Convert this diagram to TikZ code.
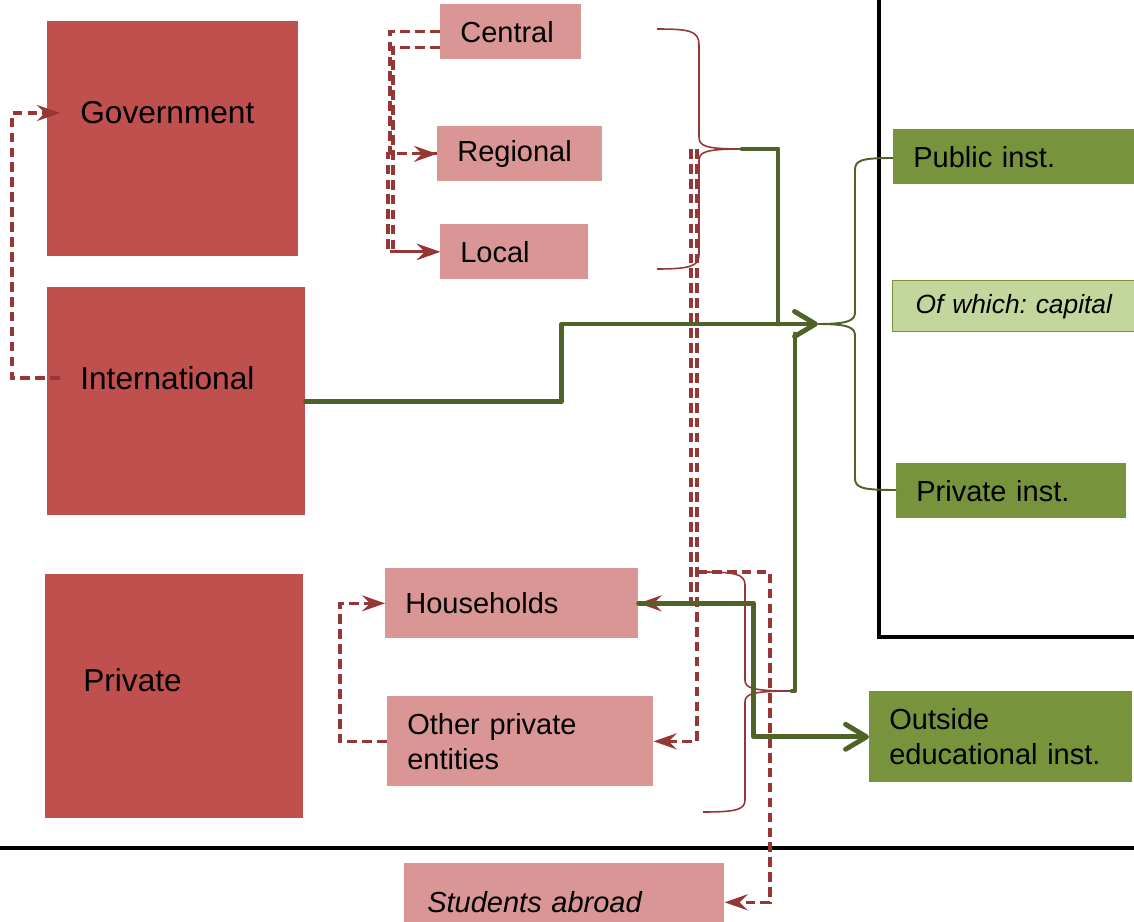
\documentclass[tikz,border=0pt]{standalone}
\usepackage{fontspec}
\setmainfont{Liberation Sans}
\usetikzlibrary{arrows.meta}
\definecolor{srcred}{HTML}{C0504D}
\definecolor{subpink}{HTML}{D99694}
\definecolor{flowred}{HTML}{953735}
\definecolor{flowgreen}{HTML}{4F6228}
\definecolor{instgreen}{HTML}{77933C}
\definecolor{capgreen}{HTML}{C3D69B}

\begin{document}
\frenchspacing
\begin{tikzpicture}[
    x=0.02cm, y=-0.02cm,
    >={Straight Barb[length=0.42cm, width=0.5cm, round]},
    every node/.style={text=black},
    srcbox/.style={fill=srcred, anchor=north west, inner sep=0pt},
    srctext/.style={anchor=west, inner xsep=0.4cm, font=\fontsize{18}{21}\selectfont},
    subbox/.style={fill=subpink, anchor=north west, inner sep=0pt, align=left,
                   font=\fontsize{16.5}{20}\selectfont},
    instbox/.style={fill=instgreen, anchor=north west, inner sep=0pt, align=left,
                    font=\fontsize{16.5}{20}\selectfont},
    redflow/.style={draw=flowred, line width=1.8pt, dash pattern=on 5.5pt off 3pt,
                    -{Stealth[length=0.46cm, width=0.32cm, inset=0.16cm]}},
    greenflow/.style={draw=flowgreen, line width=2.8pt, line join=round, line cap=round},
    redbrace/.style={draw=flowred, line width=0.9pt},
    greenbrace/.style={draw=flowgreen, line width=1.1pt},
    frameline/.style={draw=black, line width=2.3pt},
  ]

  \useasboundingbox (0,0) rectangle (1134,922);

  % === Frame lines ===
  \draw[frameline] (879,0) -- (879,637) -- (1134,637);
  \draw[frameline] (0,848) -- (1134,848);

  % === Sources ===
  \node[srcbox, minimum width=5.02cm, minimum height=4.70cm] (govbox) at (47,21) {};
  \node[srcbox, minimum width=5.16cm, minimum height=4.56cm] (intlbox) at (47,287) {};
  \node[srcbox, minimum width=5.16cm, minimum height=4.88cm] (privbox) at (45,574) {};
  \node[srctext] (gov) at (60,113) {Government};
  \node[srctext] (intl) at (60,378) {International};
  \node[srctext] (priv) at (63,680) {Private};

  % Government levels
  \node[subbox, minimum width=2.82cm, minimum height=1.10cm, text width=2.02cm]
    (central) at (440,4) {Central};
  \node[subbox, minimum width=3.30cm, minimum height=1.10cm, text width=2.50cm]
    (regional) at (437,126) {Regional};
  \node[subbox, minimum width=2.96cm, minimum height=1.10cm, text width=2.16cm]
    (local) at (440,224) {Local};

  % Private entities
  \node[subbox, minimum width=5.06cm, minimum height=1.40cm, text width=4.26cm]
    (house) at (385,568) {Households};
  \node[subbox, minimum width=5.32cm, minimum height=1.80cm, text width=4.52cm]
    (other) at (387,696) {Other private\\entities};
  \node[subbox, minimum width=6.40cm, minimum height=1.56cm, text width=5.48cm,
        font=\fontsize{16.5}{20}\selectfont\itshape]
    (abroad) at (404,863) {Students abroad};

  % === Institutions ===
  \node[instbox, minimum width=4.90cm, minimum height=1.10cm, text width=4.10cm]
    (public) at (893,129) {Public inst.};
  \node[instbox, fill=capgreen, draw=instgreen, line width=0.8pt,
        minimum width=4.96cm, minimum height=1.02cm, text width=4.04cm,
        font=\fontsize{15}{18}\selectfont\itshape]
    (capital) at (892,280) {Of which: capital};
  \node[instbox, minimum width=4.60cm, minimum height=1.10cm, text width=3.80cm]
    (privinst) at (896,463) {Private inst.};
  \node[instbox, minimum width=5.26cm, minimum height=1.82cm, text width=4.46cm]
    (outside) at (869,691) {Outside\\educational inst.};

  % === Braces ===
  \coordinate (govtip) at (742,149);
  \coordinate (privtip) at (792,691);
  \coordinate (hub) at (818,324);

  \draw[redbrace] (657,29) .. controls (690,29) and (699,31) .. (699,45)
    -- (699,137) .. controls (699,146) and (705,149) .. (govtip)
    .. controls (705,149) and (699,152) .. (699,161)
    -- (699,255) .. controls (699,266) and (690,269) .. (657,269);
  \draw[redbrace] (703,572) .. controls (735,572) and (745,574) .. (745,585)
    -- (745,680) .. controls (745,688) and (752,691) .. (privtip)
    .. controls (752,691) and (745,694) .. (745,702)
    -- (745,800) .. controls (745,810) and (735,812) .. (703,812);
  \draw[greenbrace] (893,158) .. controls (862,158) and (855,160) .. (855,170)
    -- (855,312) .. controls (855,320) and (850,324) .. (hub)
    .. controls (850,324) and (855,328) .. (855,336)
    -- (855,478) .. controls (855,488) and (862,490) .. (896,490);

  % === Red transfers ===
  \draw[redflow] (central.west) -- ++(-50,0) |- (regional.west);
  \draw[redflow] ([yshift=0.24cm]central.south west) -- ++(-47,0) |- (local.west);
  \draw[redflow] (regional.west) -- ++(-49,0) |- (local.west);
  \draw[redflow] (intl.west) -- ++(-48,0) |- (gov.west);
  \draw[redflow] (other.west) -- ++(-47,0) |- (house.west);

  \coordinate (gsA) at (691,149);
  \coordinate (gsB) at (697,149);
  \coordinate (stusplit) at (697,572);
  \draw[redflow] (gsA) |- (house.east);
  \draw[redflow] (gsB) |- (other.east);
  \draw[redflow] (stusplit) -- ++(73,0) |- (abroad.east);

  % === Green flows ===
  \draw[greenflow, ->] (intlbox.east) -- ++(256,0) |- (hub);
  \draw[greenflow] (govtip) -| ([xshift=-0.8cm]hub);
  \draw[greenflow] (privtip) -| ([xshift=-0.46cm, yshift=-0.2cm]hub);
  \draw[greenflow, ->] (house.east) -- ++(115,0) |- (outside.west);

\end{tikzpicture}
\end{document}
